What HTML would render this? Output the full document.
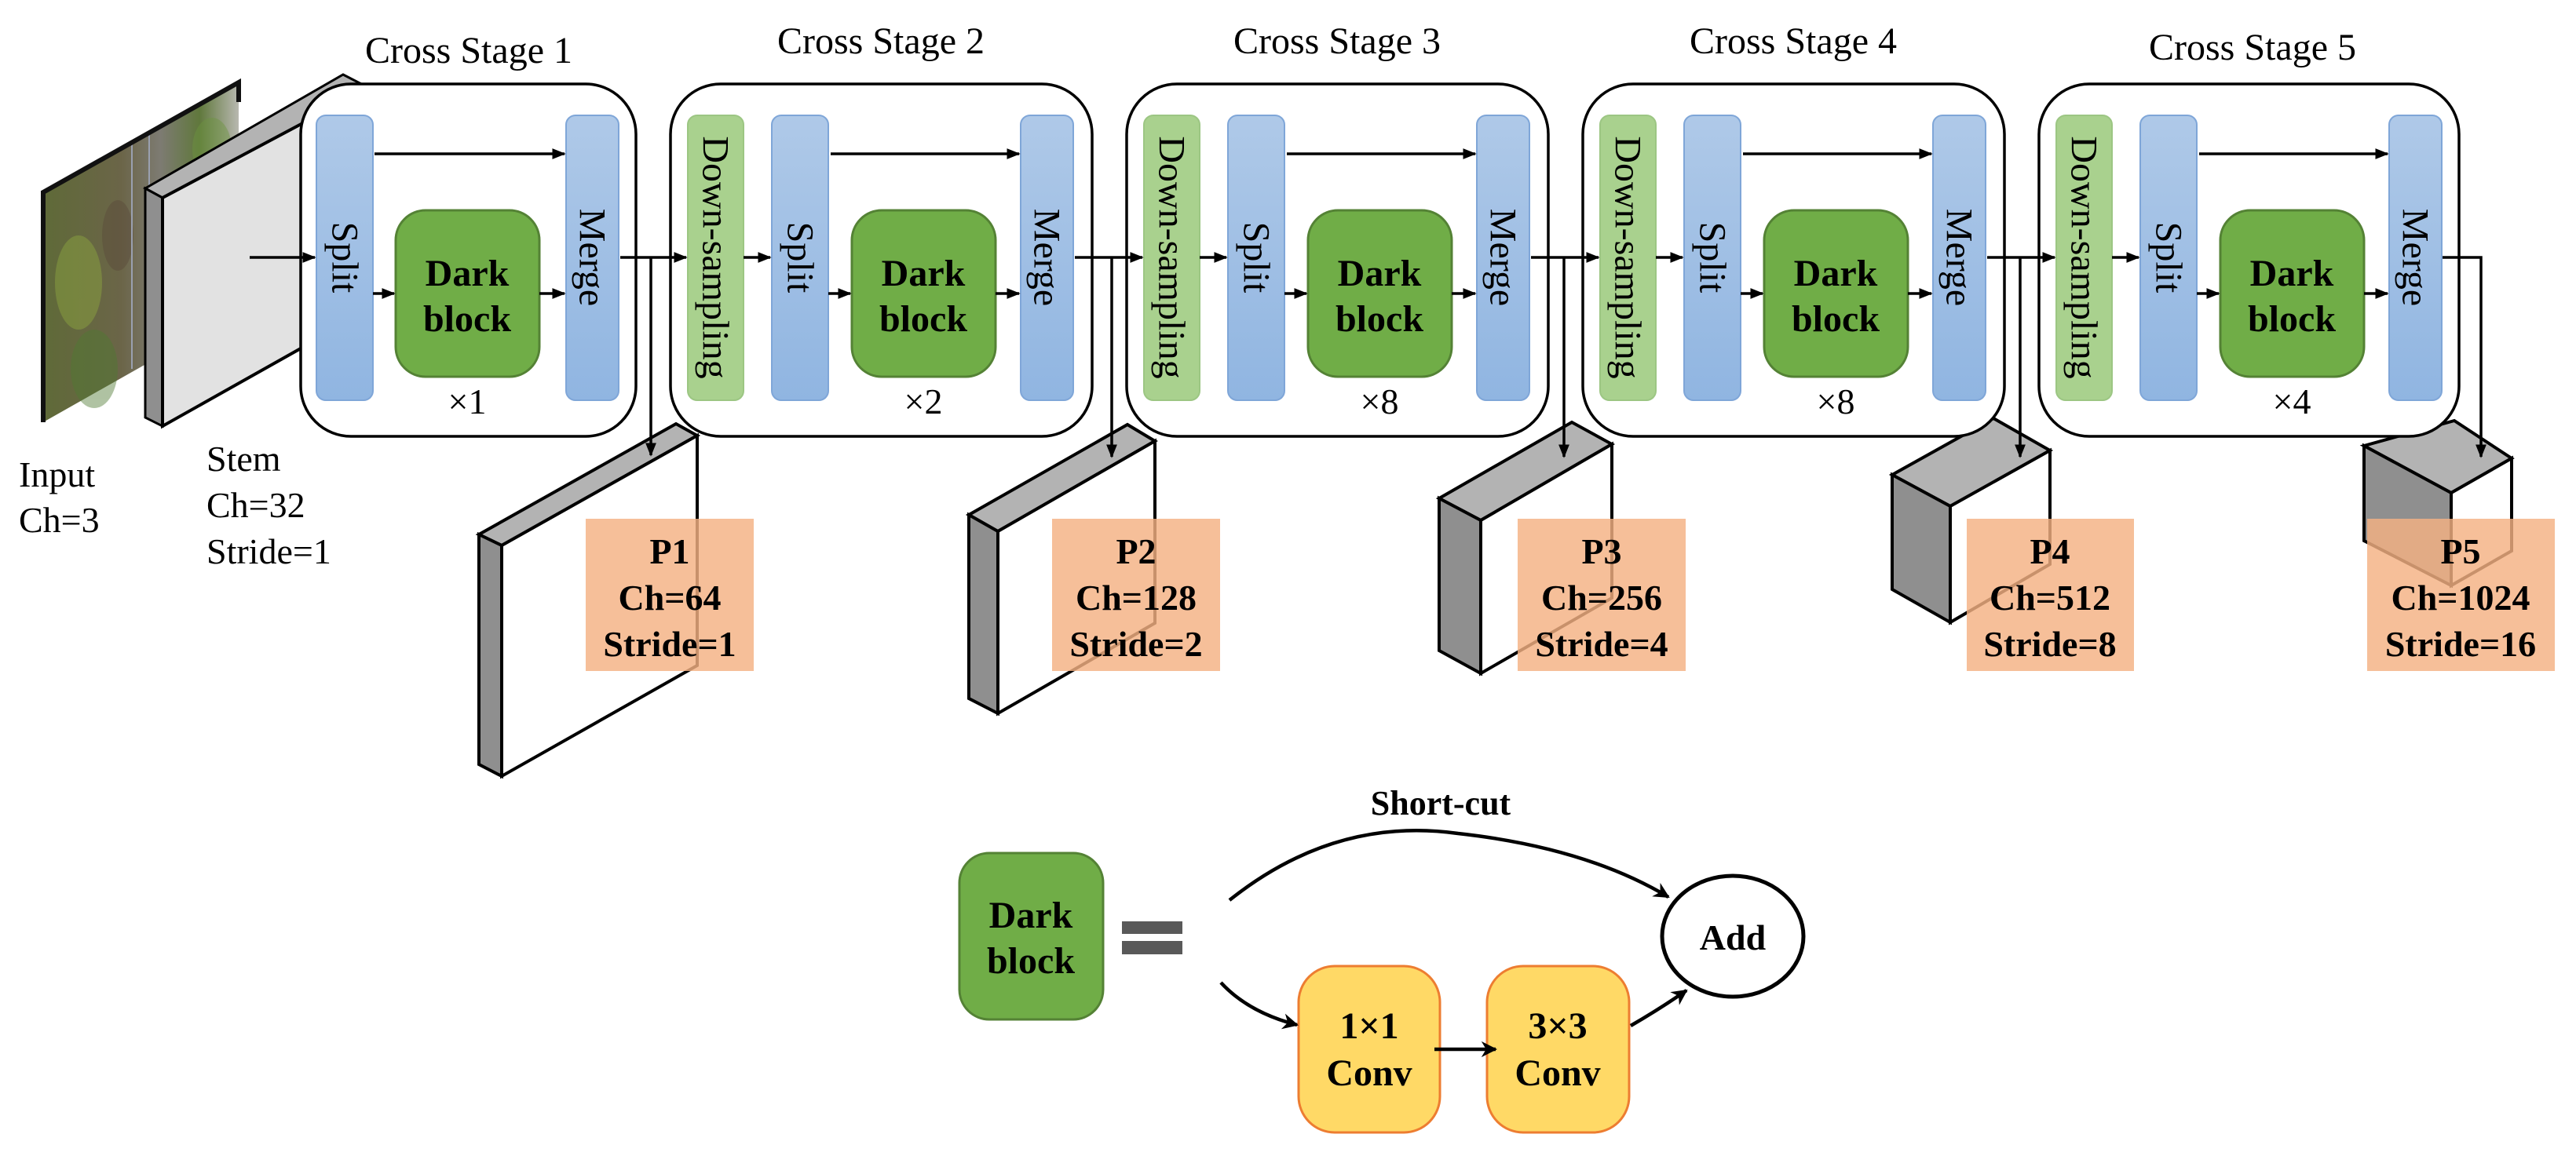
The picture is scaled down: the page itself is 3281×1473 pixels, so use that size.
<!DOCTYPE html>
<html><head><meta charset="utf-8"><style>
html,body{margin:0;padding:0;background:#fff}
svg{display:block}
text{font-family:"Liberation Serif","Times New Roman",serif;fill:#000}
.b{font-weight:bold}
</style></head><body>
<svg width="3281" height="1473" viewBox="0 0 3281 1473" xmlns="http://www.w3.org/2000/svg" font-family="Liberation Serif, serif">
<defs>
<linearGradient id="bl" x1="0" y1="0" x2="0" y2="1"><stop offset="0" stop-color="#afc9e8"/><stop offset="1" stop-color="#90b5e1"/></linearGradient>
<linearGradient id="ph" x1="0" y1="0" x2="1" y2="0"><stop offset="0" stop-color="#5f6a38"/><stop offset="0.4" stop-color="#6b6548"/><stop offset="0.6" stop-color="#7d7b72"/><stop offset="0.8" stop-color="#60783c"/><stop offset="1" stop-color="#b8b8b0"/></linearGradient>
<marker id="ar" viewBox="0 0 10 10" refX="9" refY="5" markerWidth="5" markerHeight="5" orient="auto" markerUnits="strokeWidth"><path d="M0,1 L10,5 L0,9 z" fill="#000"/></marker>
<marker id="ar2" viewBox="0 0 10 10" refX="9" refY="5" markerWidth="4.5" markerHeight="4.5" orient="auto" markerUnits="strokeWidth"><path d="M0,0 L10,5 L0,10 L3,5 z" fill="#000"/></marker>
</defs>

<!-- input photo -->
<polygon points="55,245 304,105 304,397 55,538" fill="url(#ph)"/>
<g opacity="0.45">
<ellipse cx="100" cy="360" rx="30" ry="60" fill="#8fa840"/>
<ellipse cx="120" cy="470" rx="30" ry="50" fill="#4f7a32"/>
<ellipse cx="150" cy="300" rx="20" ry="45" fill="#5a4a3a"/>
<ellipse cx="270" cy="190" rx="25" ry="40" fill="#6d9440"/>
</g>
<line x1="168" y1="180" x2="168" y2="470" stroke="#9aa0b0" stroke-width="2"/>
<line x1="190" y1="168" x2="190" y2="460" stroke="#9aa0b0" stroke-width="2"/>
<polyline points="55,538 55,245 304,105 304,130" fill="none" stroke="#111" stroke-width="6"/>

<!-- stem slab -->
<polygon points="185,240 437,95 470,112 207,252" fill="#b3b3b3" stroke="#000" stroke-width="3"/>
<polygon points="185,240 207,252 207,543 185,532" fill="#8f8f8f" stroke="#000" stroke-width="3"/>
<polygon points="207,252 470,112 470,395 207,543" fill="#e2e2e2" stroke="#000" stroke-width="4"/>

<!-- feature cubes -->
<g stroke="#000" stroke-width="4" stroke-linejoin="miter">
<polygon points="610,681 861,540 888,555 639,695" fill="#b3b3b3"/>
<polygon points="610,681 639,695 639,989 610,974" fill="#8f8f8f"/>
<polygon points="639,695 888,555 888,848 639,989" fill="#fff"/>

<polygon points="1234,656 1436,541 1471,562 1271,677" fill="#b3b3b3"/>
<polygon points="1234,656 1271,677 1271,909 1234,890" fill="#8f8f8f"/>
<polygon points="1271,677 1471,562 1471,794 1271,909" fill="#fff"/>

<polygon points="1833,635 2002,538 2053,566 1886,663" fill="#b3b3b3"/>
<polygon points="1833,635 1886,663 1886,858 1833,829" fill="#8f8f8f"/>
<polygon points="1886,663 2053,566 2053,762 1886,858" fill="#fff"/>

<polygon points="2410,605 2539,533 2611,574 2484,645" fill="#b3b3b3"/>
<polygon points="2410,605 2484,645 2484,793 2410,751" fill="#8f8f8f"/>
<polygon points="2484,645 2611,574 2611,719 2484,793" fill="#fff"/>

<polygon points="3011,568 3126,536 3199,584 3122,628" fill="#b3b3b3"/>
<polygon points="3011,568 3122,628 3122,746 3011,689" fill="#8f8f8f"/>
<polygon points="3122,628 3199,584 3199,702 3122,746" fill="#fff"/>
</g>

<!-- stage boxes -->
<g fill="#fff" stroke="#000" stroke-width="3.5">
<rect x="383" y="107" width="427" height="449" rx="64"/>
<rect x="854" y="107" width="537" height="449" rx="64"/>
<rect x="1435" y="107" width="537" height="449" rx="64"/>
<rect x="2016" y="107" width="537" height="449" rx="64"/>
<rect x="2597" y="107" width="535" height="449" rx="64"/>
</g>

<!-- titles -->
<g font-size="48" text-anchor="middle">
<text x="597" y="80">Cross Stage 1</text>
<text x="1122" y="68">Cross Stage 2</text>
<text x="1703" y="68">Cross Stage 3</text>
<text x="2284" y="68">Cross Stage 4</text>
<text x="2869" y="76">Cross Stage 5</text>
</g>

<!-- stage 1 internals -->
<rect x="403" y="147" width="72" height="363" rx="12" fill="url(#bl)" stroke="#7fa6d8" stroke-width="2"/>
<rect x="504" y="268" width="183" height="212" rx="38" fill="#70ad47" stroke="#548235" stroke-width="3"/>
<rect x="721" y="147" width="67" height="363" rx="12" fill="url(#bl)" stroke="#7fa6d8" stroke-width="2"/>
<text transform="translate(439,328) rotate(90)" font-size="48" text-anchor="middle" dominant-baseline="central">Split</text>
<text transform="translate(754,328) rotate(90)" font-size="48" text-anchor="middle" dominant-baseline="central">Merge</text>
<text x="595" y="364" font-size="48" class="b" text-anchor="middle">Dark</text>
<text x="595" y="422" font-size="48" class="b" text-anchor="middle">block</text>
<text x="595" y="527" font-size="46" text-anchor="middle">×1</text>

<!-- stages 2-5 -->
<g id="s2">
<rect x="876" y="147" width="71" height="363" rx="12" fill="#a9d18e" stroke="#9cc683" stroke-width="2"/>
<rect x="983" y="147" width="72" height="363" rx="12" fill="url(#bl)" stroke="#7fa6d8" stroke-width="2"/>
<rect x="1085" y="268" width="183" height="212" rx="38" fill="#70ad47" stroke="#548235" stroke-width="3"/>
<rect x="1300" y="147" width="67" height="363" rx="12" fill="url(#bl)" stroke="#7fa6d8" stroke-width="2"/>
<text transform="translate(911,328) rotate(90)" font-size="48" text-anchor="middle" dominant-baseline="central">Down-sampling</text>
<text transform="translate(1019,328) rotate(90)" font-size="48" text-anchor="middle" dominant-baseline="central">Split</text>
<text transform="translate(1333,328) rotate(90)" font-size="48" text-anchor="middle" dominant-baseline="central">Merge</text>
<text x="1176" y="364" font-size="48" class="b" text-anchor="middle">Dark</text>
<text x="1176" y="422" font-size="48" class="b" text-anchor="middle">block</text>
<line x1="947" y1="328" x2="981" y2="328" stroke="#000" stroke-width="3.5" marker-end="url(#ar)"/>
<line x1="1055" y1="374" x2="1083" y2="374" stroke="#000" stroke-width="3.5" marker-end="url(#ar)"/>
<line x1="1268" y1="374" x2="1298" y2="374" stroke="#000" stroke-width="3.5" marker-end="url(#ar)"/>
<line x1="1058" y1="196" x2="1298" y2="196" stroke="#000" stroke-width="3.5" marker-end="url(#ar)"/>
</g>
<use href="#s2" x="581"/>
<use href="#s2" x="1162"/>
<use href="#s2" x="1743"/>
<g font-size="46" text-anchor="middle">
<text x="1176" y="527">×2</text>
<text x="1757" y="527">×8</text>
<text x="2338" y="527">×8</text>
<text x="2919" y="527">×4</text>
</g>

<!-- stage 1 arrows -->
<g stroke="#000" stroke-width="3.5" fill="none">
<line x1="318" y1="328" x2="401" y2="328" marker-end="url(#ar)"/>
<line x1="477" y1="196" x2="719" y2="196" marker-end="url(#ar)"/>
<line x1="475" y1="374" x2="502" y2="374" marker-end="url(#ar)"/>
<line x1="687" y1="374" x2="719" y2="374" marker-end="url(#ar)"/>
<line x1="790" y1="328" x2="874" y2="328" marker-end="url(#ar)"/>
<line x1="829" y1="328" x2="829" y2="580" marker-end="url(#ar)"/>
<line x1="1369" y1="328" x2="1455" y2="328" marker-end="url(#ar)"/>
<line x1="1416" y1="328" x2="1416" y2="582" marker-end="url(#ar)"/>
<line x1="1950" y1="328" x2="2036" y2="328" marker-end="url(#ar)"/>
<line x1="1992" y1="328" x2="1992" y2="582" marker-end="url(#ar)"/>
<line x1="2531" y1="328" x2="2617" y2="328" marker-end="url(#ar)"/>
<line x1="2573" y1="328" x2="2573" y2="582" marker-end="url(#ar)"/>
<polyline points="3111,328 3160,328 3160,582" marker-end="url(#ar)"/>
</g>

<!-- P boxes -->
<g fill="#f4b183" fill-opacity="0.82">
<rect x="746" y="661" width="214" height="194"/>
<rect x="1340" y="661" width="214" height="194"/>
<rect x="1933" y="661" width="214" height="194"/>
<rect x="2505" y="661" width="213" height="194"/>
<rect x="3015" y="661" width="239" height="194"/>
</g>
<g font-size="46" class="b" text-anchor="middle">
<text x="853" y="718">P1</text><text x="853" y="777">Ch=64</text><text x="853" y="836">Stride=1</text>
<text x="1447" y="718">P2</text><text x="1447" y="777">Ch=128</text><text x="1447" y="836">Stride=2</text>
<text x="2040" y="718">P3</text><text x="2040" y="777">Ch=256</text><text x="2040" y="836">Stride=4</text>
<text x="2611" y="718">P4</text><text x="2611" y="777">Ch=512</text><text x="2611" y="836">Stride=8</text>
<text x="3134" y="718">P5</text><text x="3134" y="777">Ch=1024</text><text x="3134" y="836">Stride=16</text>
</g>

<!-- labels -->
<g font-size="46">
<text x="24" y="620">Input</text><text x="24" y="678">Ch=3</text>
<text x="263" y="600">Stem</text><text x="263" y="659">Ch=32</text><text x="263" y="718">Stride=1</text>
</g>

<!-- bottom -->
<rect x="1222" y="1087" width="183" height="212" rx="38" fill="#70ad47" stroke="#548235" stroke-width="3"/>
<text x="1313" y="1182" font-size="48" class="b" text-anchor="middle">Dark</text>
<text x="1313" y="1240" font-size="48" class="b" text-anchor="middle">block</text>
<rect x="1429" y="1174" width="77" height="16" fill="#595959"/>
<rect x="1429" y="1199" width="77" height="17" fill="#595959"/>
<rect x="1654" y="1231" width="180" height="212" rx="46" fill="#ffd966" stroke="#ed7d31" stroke-width="3"/>
<rect x="1894" y="1231" width="181" height="212" rx="46" fill="#ffd966" stroke="#ed7d31" stroke-width="3"/>
<g font-size="48" class="b" text-anchor="middle">
<text x="1744" y="1323">1×1</text><text x="1744" y="1383">Conv</text>
<text x="1984" y="1323">3×3</text><text x="1984" y="1383">Conv</text>
<text x="1835" y="1038" font-size="44">Short-cut</text>
<text x="2207" y="1210" font-size="46">Add</text>
</g>
<ellipse cx="2207" cy="1193" rx="90" ry="77" fill="none" stroke="#000" stroke-width="5"/>
<g stroke="#000" stroke-width="4.5" fill="none">
<path d="M1566,1147 Q1700,1040 1857,1062 Q2020,1080 2125,1143" marker-end="url(#ar2)"/>
<path d="M1555,1252 Q1590,1290 1652,1306" marker-end="url(#ar2)"/>
<line x1="1827" y1="1337" x2="1905" y2="1337" marker-end="url(#ar2)"/>
<path d="M2077,1307 Q2115,1285 2148,1262" marker-end="url(#ar2)"/>
</g>
</svg>
</body></html>
